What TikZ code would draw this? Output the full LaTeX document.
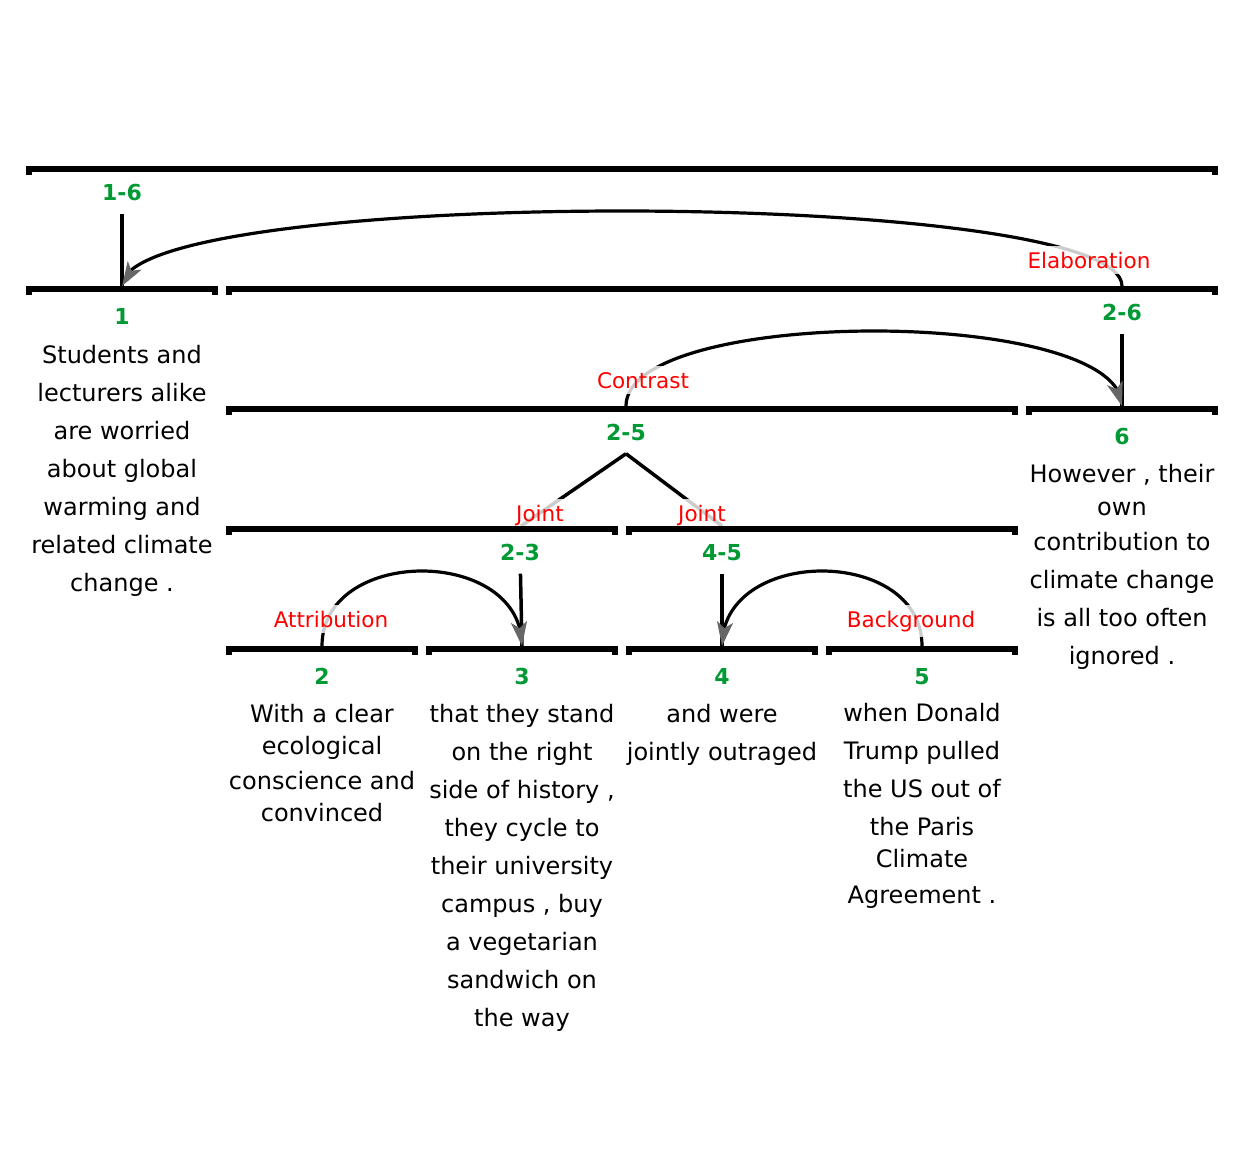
\documentclass[tikz,border=0pt]{standalone}
\usepackage{fontspec}
\setmainfont{DejaVu Sans}
\usetikzlibrary{arrows.meta,bending}
\definecolor{spangreen}{RGB}{0,153,51}

\begin{document}
\begin{tikzpicture}[x=0.5pt,y=-0.5pt,align=center]
\tikzstyle{spanbar}=[line width=3pt]
\tikzstyle{spanid}=[text=spangreen,font=\fontsize{11}{13}\selectfont\bfseries,inner sep=6.5pt,anchor=base]
\tikzstyle{edu}=[font=\fontsize{12}{19}\selectfont,inner sep=0pt,anchor=base]
\tikzstyle{relname}=[text=red,font=\fontsize{10.75}{13}\selectfont,fill=white,fill opacity=0.8,text opacity=1,inner sep=3pt,anchor=base]
\tikzstyle{nucleus}=[line width=1.75pt]
\tikzstyle{relation}=[line width=1.6pt,-{Stealth[length=12pt,width=8pt,inset=3pt,flex,color=black!60]}]

\useasboundingbox (0,0) rectangle (1250,1162);

% span ids
\node[spanid] (n16) at (122,200) {1-6};
\node[spanid] (n26) at (1122,320) {2-6};
\node[spanid] (n25) at (626,440) {2-5};
\node[spanid] (n23) at (520,560) {2-3};
\node[spanid] (n45) at (722,560) {4-5};
\foreach \i/\x/\y in {1/122/324,6/1122/444,2/322/684,3/522/684,4/722/684,5/922/684}
  \node[spanid] (n\i) at (\x,\y) {\i};

% nucleus points on the bars
\coordinate (s1) at (122,286);
\coordinate (s26) at (1122,286);
\coordinate (s25) at (626,406);
\coordinate (s6) at (1122,406);
\coordinate (s23) at (521,526);
\coordinate (s45) at (722,526);
\foreach \i in {2,...,5}
  \coordinate (s\i) at ({122+200*(\i-1)},646);

% segments (placed at the baseline of their last line)
\node[edu] (t1) at (122,591) {Students and\\lecturers alike\\are worried\\about global\\warming and\\related climate\\change .};
\node[edu] (t2) at (322,821) {With a clear\\[-3pt]ecological\\[-1.5pt]conscience and\\[-3pt]convinced};
\node[edu] (t3) at (522,1026) {that they stand\\on the right\\side of history ,\\they cycle to\\their university\\campus , buy\\a vegetarian\\sandwich on\\the way};
\node[edu] (t4) at (722,760) {and were\\jointly outraged};
\node[edu] (t5) at (922,903) {when Donald\\Trump pulled\\the US out of\\the Paris\\[-3pt]Climate\\[-1pt]Agreement .};
\node[edu] (t6) at (1122,664) {However , their\\[-2.5pt]own\\[-1.5pt]contribution to\\climate change\\is all too often\\ignored .};

% nuclei
\draw[nucleus] (n16) -- (s1);
\draw[nucleus] (n26) -- (s6);
\draw[nucleus] (n23) -- (s3);
\draw[nucleus] (n45) -- (s4);
\draw[nucleus] (n25.south) -- (s23);
\draw[nucleus] (n25.south) -- (s45);

% relations
\draw[relation] (s26) .. controls +(0,-100) and +(0,-100) .. (s1);
\draw[relation] (s25) .. controls +(0,-100) and +(0,-100) .. (s6);
\draw[relation] (s2) .. controls +(0,-100) and +(0,-100) .. (s3);
\draw[relation] (s5) .. controls +(0,-100) and +(0,-100) .. (s4);

\node[relname] (r16) at (1089,268) {Elaboration};
\node[relname] (r26) at (643,388) {Contrast};
\node[relname] (r23) at (540,521) {Joint};
\node[relname] (r45) at (702,521) {Joint};
\node[relname] (r2) at (331,627) {Attribution};
\node[relname] (r5) at (911,627) {Background};

% span bars
\foreach \a/\b/\y in {1/6/169,1/1/289,2/6/289,2/5/409,6/6/409,2/3/529,4/5/529,2/2/649,3/3/649,4/4/649,5/5/649}
  \draw[spanbar] ({29+200*(\a-1)},\y+6) |- ({215+200*(\b-1)},\y) -- ++(0,6);
\end{tikzpicture}
\end{document}
